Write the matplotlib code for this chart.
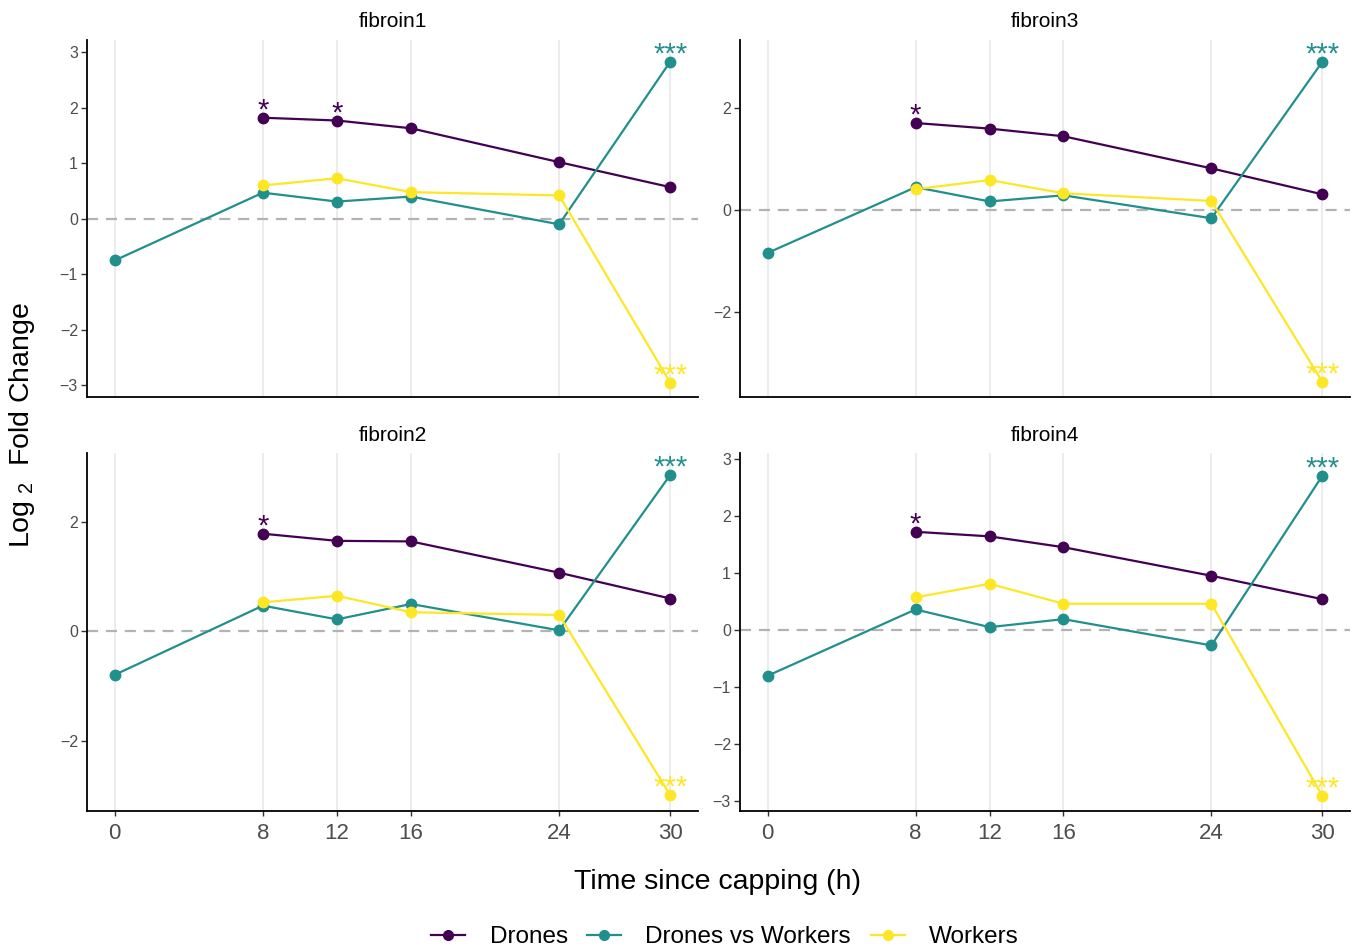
import matplotlib
matplotlib.use("Agg")
import matplotlib.pyplot as plt
from matplotlib.lines import Line2D

plt.rcParams["font.family"] = ["Liberation Sans", "DejaVu Sans"]
plt.rcParams["mathtext.fontset"] = "custom"
plt.rcParams["mathtext.rm"] = "Liberation Sans"

# time points (h)
x_ticks = [0, 8, 12, 16, 24, 30]
drone_times = [8, 12, 16, 24, 30]
worker_times = [8, 12, 16, 24, 30]
dvw_times = [0, 8, 12, 16, 24, 30]

# log2 fold change
fibroin1_drones = [1.82, 1.77, 1.63, 1.02, 0.57]
fibroin1_workers = [0.60, 0.73, 0.48, 0.42, -2.95]
fibroin1_dvw = [-0.75, 0.47, 0.31, 0.40, -0.10, 2.83]

fibroin3_drones = [1.71, 1.60, 1.45, 0.82, 0.31]
fibroin3_workers = [0.41, 0.59, 0.33, 0.18, -3.37]
fibroin3_dvw = [-0.84, 0.45, 0.17, 0.29, -0.16, 2.91]

fibroin2_drones = [1.78, 1.65, 1.64, 1.07, 0.60]
fibroin2_workers = [0.53, 0.65, 0.35, 0.30, -2.98]
fibroin2_dvw = [-0.79, 0.47, 0.22, 0.50, 0.02, 2.85]

fibroin4_drones = [1.72, 1.64, 1.45, 0.95, 0.54]
fibroin4_workers = [0.57, 0.81, 0.46, 0.46, -2.90]
fibroin4_dvw = [-0.80, 0.36, 0.05, 0.19, -0.27, 2.70]

# significance marks: (series, time, label)
fibroin1_sig = [("Drones", 8, "*"), ("Drones", 12, "*"),
                ("Drones vs Workers", 30, "***"), ("Workers", 30, "***")]
other_sig = [("Drones", 8, "*"),
             ("Drones vs Workers", 30, "***"), ("Workers", 30, "***")]

genes = ["fibroin1", "fibroin3", "fibroin2", "fibroin4"]
series_names = ["Drones", "Drones vs Workers", "Workers"]
colors = {"Drones": "#440154", "Drones vs Workers": "#21908C", "Workers": "#FDE725"}

data = {
    "fibroin1": {"Drones": fibroin1_drones, "Drones vs Workers": fibroin1_dvw, "Workers": fibroin1_workers},
    "fibroin3": {"Drones": fibroin3_drones, "Drones vs Workers": fibroin3_dvw, "Workers": fibroin3_workers},
    "fibroin2": {"Drones": fibroin2_drones, "Drones vs Workers": fibroin2_dvw, "Workers": fibroin2_workers},
    "fibroin4": {"Drones": fibroin4_drones, "Drones vs Workers": fibroin4_dvw, "Workers": fibroin4_workers},
}
times = {"Drones": drone_times, "Drones vs Workers": dvw_times, "Workers": worker_times}
sig = {"fibroin1": fibroin1_sig, "fibroin3": other_sig, "fibroin2": other_sig, "fibroin4": other_sig}

# layout per panel (pixel boxes)
W, H = 1355, 948
rects = {
    "fibroin1": (87, 40, 698, 397),
    "fibroin3": (740, 40, 1350, 397),
    "fibroin2": (87, 453, 698, 811),
    "fibroin4": (740, 453, 1350, 811),
}
ylims = {"fibroin1": (-3.21, 3.22), "fibroin3": (-3.67, 3.34),
         "fibroin2": (-3.27, 3.25), "fibroin4": (-3.17, 3.10)}
yticks = {"fibroin1": [-3, -2, -1, 0, 1, 2, 3], "fibroin3": [-2, 0, 2],
          "fibroin2": [-2, 0, 2], "fibroin4": [-3, -2, -1, 0, 1, 2, 3]}

fig = plt.figure(figsize=(W / 100, H / 100), dpi=100)

for g in genes:
    x0, y0, x1, y1 = rects[g]
    ax = fig.add_axes([x0 / W, 1 - y1 / H, (x1 - x0) / W, (y1 - y0) / H])
    for t in x_ticks:
        ax.axvline(t, color="#EBEBEB", lw=1.3, zorder=0)
    ax.axhline(0, color="#B3B3B3", lw=1.6, ls=(0, (5, 3.5)), zorder=1)
    for s in series_names:
        ax.plot(times[s], data[g][s], color=colors[s], lw=1.6, zorder=2)
    for s in series_names:
        ax.plot(times[s], data[g][s], "o", color=colors[s], ms=7.5, zorder=3)
    for s, t, lab in sig[g]:
        yv = data[g][s][times[s].index(t)]
        ax.annotate(lab, (t, yv), xytext=(0, -0.5), textcoords="offset points",
                    ha="center", va="baseline", fontsize=21, color=colors[s], zorder=4)
    ax.set_xlim(-1.5, 31.5)
    ax.set_ylim(*ylims[g])
    ax.set_yticks(yticks[g])
    ax.set_xticks(x_ticks)
    ax.set_title(g, fontsize=15, pad=9)
    for sp in ["top", "right"]:
        ax.spines[sp].set_visible(False)
    for sp in ["left", "bottom"]:
        ax.spines[sp].set_linewidth(1.3)
        ax.spines[sp].set_color("black")
    ax.tick_params(axis="y", labelsize=11.5, labelcolor="#4D4D4D", color="#333333",
                   length=4, width=1, pad=2.5)
    if g in ("fibroin1", "fibroin3"):
        ax.tick_params(axis="x", bottom=False, labelbottom=False)
    else:
        ax.tick_params(axis="x", labelsize=16, labelcolor="#4D4D4D", color="#333333",
                       length=3.5, width=1, pad=5)

fig.text(718 / W, 1 - 882 / H, "Time since capping (h)", ha="center", va="center", fontsize=20.5)
fig.text(22 / W, 1 - 425 / H, r"Log$_{\ 2}$  Fold Change", ha="center", va="center",
         rotation=90, fontsize=20.5)

handles = [Line2D([0], [0], color=colors[s], lw=1.6, marker="o", ms=7) for s in series_names]
fig.legend(handles, series_names, loc="center", bbox_to_anchor=(0.535, 1 - 937 / H), ncol=3,
           frameon=False, fontsize=17.5, handlelength=1.4, handletextpad=1.0, columnspacing=0.8)

fig.savefig("out.png", dpi=100)
